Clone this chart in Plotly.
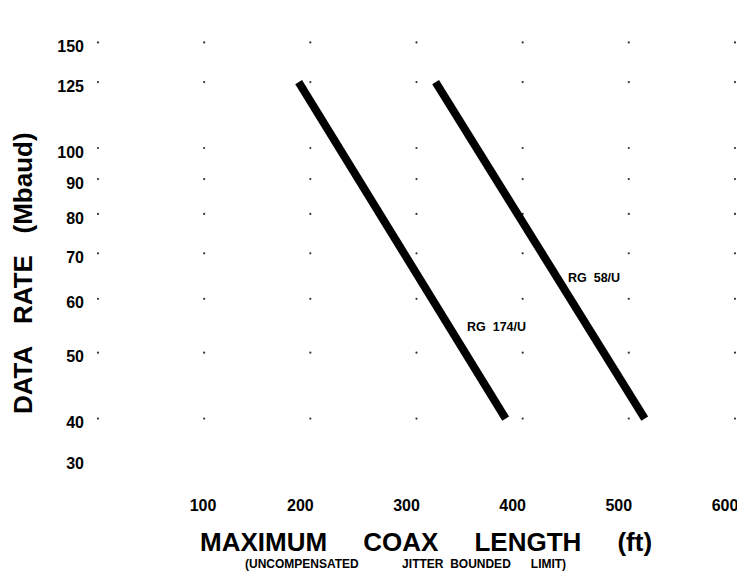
import plotly.graph_objects as go
import numpy as np

# ---- data ----
cable_names = ["RG 174/U", "RG 58/U"]
rg174_length = [189, 384]      # ft
rg174_rate = [125, 40]         # Mbaud
rg58_length = [318, 515]
rg58_rate = [125, 40]

x_ticks = [100, 200, 300, 400, 500, 600]
x_tick_labels = ["\u00a0\u00a0\u00a0\u00a0100", "200", "300", "400", "500", "600"]
y_tick_labels = ["30", "40", "50", "60", "70", "80", "90", "100", "125", "150"]
# where the original drawing puts each label on its (slightly irregular) log scale
y_tick_pos = [34.8, 40, 50, 60, 70, 80, 90, 100, 125, 143]
grid_x = [0, 100, 200, 300, 400, 500, 600]
grid_y = y_tick_pos[1:]          # no dots on the bottom "30" row

label_pos = {"RG 174/U": (375, 54.6), "RG 58/U": (467, 64.3)}

FONT = "Liberation Sans, Arial, Helvetica, sans-serif"

fig = go.Figure()

# dotted grid: single dots at intersections
gx, gy = np.meshgrid(grid_x, grid_y)
fig.add_trace(go.Scatter(
    x=gx.ravel(), y=gy.ravel(), mode="markers",
    marker=dict(size=2.2, color="#333333"), hoverinfo="skip", showlegend=False))

for name, xs, ys in [(cable_names[0], rg174_length, rg174_rate),
                     (cable_names[1], rg58_length, rg58_rate)]:
    fig.add_trace(go.Scatter(x=xs, y=ys, mode="lines", name=name,
                             line=dict(color="black", width=8),
                             showlegend=False))
    lx, ly = label_pos[name]
    fig.add_annotation(x=lx, y=np.log10(ly), xref="x", yref="y",
                       xanchor="center", yanchor="middle",
                       text=name.replace(" ", "\u00a0\u00a0"), showarrow=False,
                       font=dict(family=FONT, size=12.5, color="black", weight="bold"))

# the page body adds an 8px margin on every side; keep the figure inside the window
OFF = 8
W, H = 745 - 2 * OFF, 580 - 2 * OFF
L, T, R = 88 - OFF, 15 - OFF, 0
B = H - (506 - OFF)
pw, ph = W - L - R, H - T - B

def px_x(p):
    return (p - OFF - L) / pw

def px_y(p):
    return (H - B - (p - OFF)) / ph

fig.update_layout(
    width=W, height=H,
    margin=dict(l=L, r=R, t=T, b=B, autoexpand=False),
    paper_bgcolor="white", plot_bgcolor="white",
    font=dict(family=FONT, color="black"),
    xaxis=dict(range=[-9.42, 601.9], showgrid=False, zeroline=False, showline=False,
               automargin=False, ticklabeloverflow="allow",
               tickvals=x_ticks, ticktext=x_tick_labels,
               tickfont=dict(size=16, weight="bold"),
               ticklabelstandoff=-12, ticklabelshift=-10),
    yaxis=dict(type="log", range=[1.4735, 2.1956], showgrid=False, zeroline=False,
               showline=False, automargin=False, ticklabeloverflow="allow",
               tickvals=y_tick_pos, ticktext=y_tick_labels,
               tickfont=dict(size=16, weight="bold"),
               ticklabelstandoff=3, ticklabelshift=4),
)

sp = "\u00a0"
fig.add_annotation(xref="paper", yref="paper", x=px_x(426), y=px_y(542),
                   xanchor="center", yanchor="middle", borderpad=0,
                   text="MAXIMUM" + sp * 5 + "COAX" + sp * 5 + "LENGTH" + sp * 5 + "(ft)",
                   showarrow=False, font=dict(size=26, weight="bold"))
fig.add_annotation(xref="paper", yref="paper", x=px_x(405), y=px_y(564),
                   xanchor="center", yanchor="middle", borderpad=0,
                   text="(UNCOMPENSATED" + sp * 13 + "JITTER" + sp * 2 + "BOUNDED" + sp * 6 + "LIMIT)",
                   showarrow=False, font=dict(size=12, weight="bold"))
fig.add_annotation(xref="paper", yref="paper", x=px_x(23), y=px_y(273),
                   xanchor="center", yanchor="middle",
                   text="DATA" + sp * 3 + "RATE" + sp * 3 + "(Mbaud)", textangle=-90,
                   showarrow=False, font=dict(size=26, weight="bold"))

fig.write_html("out.html")
